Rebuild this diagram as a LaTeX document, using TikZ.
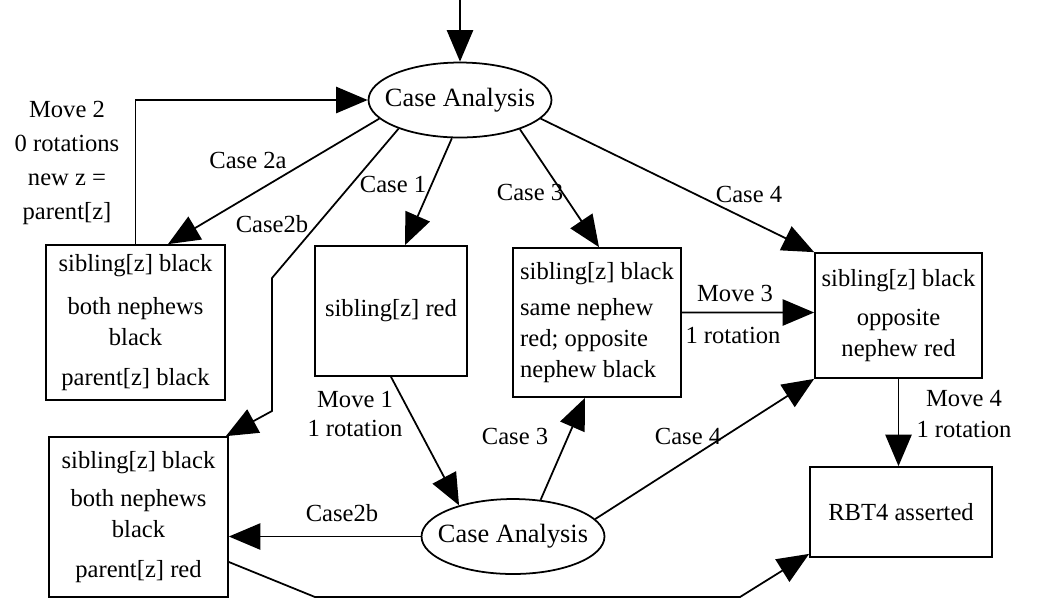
\documentclass[tikz,border=0pt]{standalone}
\usepackage{fontspec}
\setmainfont{Liberation Serif}
\usetikzlibrary{shapes.geometric,arrows.meta}
\begin{document}
\begin{tikzpicture}[x=0.02cm,y=-0.02cm,
  every node/.style={font=\fontsize{14}{17.6}\selectfont},
  box/.style={draw,line width=1pt,rectangle,inner sep=0pt,align=center},
  oval/.style={draw,line width=1pt,ellipse,inner sep=0pt,minimum width=3.66cm,minimum height=1.5cm,font=\fontsize{15}{18}\selectfont},
  conn/.style={line width=1pt,-{Triangle[length=18pt,width=15pt]}},
  lbl/.style={align=center,inner sep=0pt,font=\fontsize{14}{19.5}\selectfont}]
\useasboundingbox (0,0) rectangle (1060,600);

\node[oval] (ca1) at (460,100) {\makebox[0pt]{Case Analysis}};
\node[oval] (ca2) at (513,536.5) {\makebox[0pt]{Case Analysis}};
\node[box,minimum width=3.58cm,minimum height=3.1cm] (b2a) at (135.5,322.5)
  {sibling[z] black\\[7pt] both nephews\\ black\\[5pt] parent[z] black};
\node[box,minimum width=3.04cm,minimum height=2.6cm] (b1) at (391,311) {sibling[z] red};
\node[box,minimum width=3.36cm,minimum height=2.98cm,align=left] (b3) at (597,322.5)
  {sibling[z] black\\[3pt] same nephew\\ red; opposite\\ nephew black};
\node[box,minimum width=3.34cm,minimum height=2.5cm] (b4) at (898.5,315.5)
  {sibling[z] black\\[5pt] opposite\\ nephew red};
\node[box,minimum width=3.58cm,minimum height=3.2cm] (b2b) at (138.5,517)
  {sibling[z] black\\[4pt] both nephews\\ black\\[5pt] parent[z] red};
\node[box,minimum width=3.64cm,minimum height=1.8cm] (rbt) at (901,512) {RBT4 asserted};

\coordinate (start) at (460,0);
\coordinate (k1) at (272,278);
\coordinate (k2) at (272,411);
\coordinate (k3) at (315,597);
\coordinate (k4) at (740,597);

\draw[conn] (start) -- (ca1.north);
\draw[conn] (b2a.north) |- (ca1.west);
\draw[conn] (ca1.193) -- ([xshift=0.65cm]b2a.north);
\draw[conn] (ca1.205) -- (k1) -- (k2) -- ([xshift=-0.06cm]b2b.north east);
\draw[conn] (ca1.258) -- ([xshift=0.28cm]b1.north);
\draw[conn] (ca1.334) -- ([xshift=0.04cm]b3.north);
\draw[conn] (ca1.347) -- (b4.north west);
\draw[conn] ([yshift=0.2cm]b3.east) -- ([yshift=0.06cm]b4.west);
\draw[conn] (b4.south) -- (b4.south |- rbt.north);
\draw[conn] (b1.south) -- (ca2.150);
\draw[conn] (ca2.53) -- ([xshift=-0.24cm]b3.south);
\draw[conn] (ca2.12) -- (b4.south west);
\draw[conn] (ca2.west) -- (ca2.west -| b2b.east);
\draw[conn] ([yshift=-0.9cm]b2b.east) -- (k3) -- (k4) -- ([yshift=0.08cm]rbt.south west);

\node[lbl] (lm2) at (67,163) {Move 2\\0 rotations\\new z =\\parent[z]};
\node[lbl] (l2a) at (248,160) {Case 2a};
\node[lbl] (l2b) at (272,224) {Case2b};
\node[lbl] (l1) at (393,184) {Case 1};
\node[lbl] (l3) at (530,192) {Case 3};
\node[lbl] (l4) at (749,194) {Case 4};
\node[lbl] (lm3) at (735,293) {Move 3};
\node[lbl] (lr3) at (733,335) {1 rotation};
\node[lbl,font=\fontsize{14}{17.6}\selectfont] (lm4) at (964,414) {Move 4\\1 rotation};
\node[lbl,font=\fontsize{14}{17}\selectfont] (lm1) at (355,414) {Move 1\\1 rotation};
\node[lbl] (l3b) at (515,436) {Case 3};
\node[lbl] (l4b) at (688,436) {Case 4};
\node[lbl] (l2bb) at (342,513) {Case2b};
\end{tikzpicture}
\end{document}
